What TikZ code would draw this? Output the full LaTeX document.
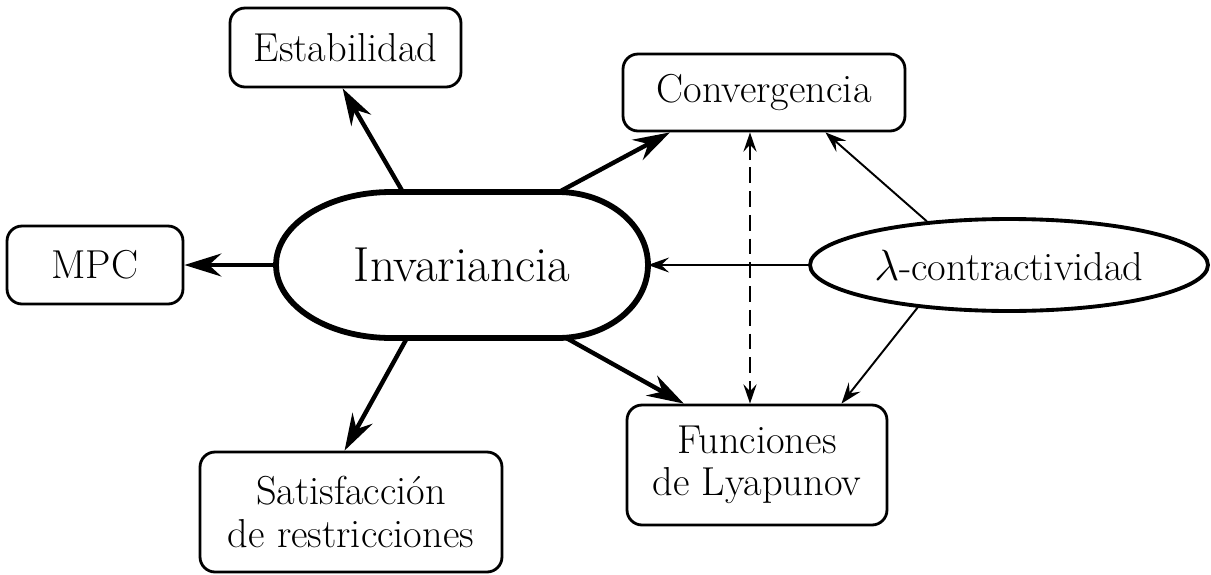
\documentclass[tikz,border=0pt]{standalone}
\usepackage{fontspec}
\usetikzlibrary{arrows.meta,shapes.geometric}
\tikzstyle{box} = [rectangle, draw, rounded corners=0.3cm, line width=1.6pt, align=center, inner sep=0pt, font=\fontsize{23}{24}\selectfont]
\tikzstyle{oval} = [ellipse, draw, line width=2.2pt, inner xsep=-0.4cm, inner ysep=0pt, font=\fontsize{23}{24}\selectfont]
\tikzstyle{core} = [rectangle, inner sep=0pt, outer sep=0pt, minimum width=7.44cm, minimum height=2.92cm, font=\fontsize{28}{30}\selectfont]
\tikzstyle{coreline} = [line width=3.3pt]
\tikzstyle{strong} = [line width=2.5pt, -{Stealth[length=21pt,width=13pt,inset=7pt]}]
\tikzstyle{weak} = [line width=1.1pt, -{Stealth[length=12pt,width=8.5pt,inset=4.5pt]}]
\tikzstyle{link} = [line width=1.1pt, dash pattern=on 9pt off 4.5pt, {Stealth[length=11pt,width=7.5pt,inset=4pt]}-{Stealth[length=11pt,width=7.5pt,inset=4pt]}]

\begin{document}
\begin{tikzpicture}[x=0.02cm,y=-0.02cm]
  \useasboundingbox (0,0) rectangle (1211,575);
  \node[core] (inv) at (462,265) {Invariancia};
  \node[box, minimum width=4.62cm, minimum height=1.58cm] (stab) at (345.5,47.5) {Estabilidad};
  \node[box, minimum width=5.64cm, minimum height=1.54cm] (conv) at (764,92.5) {Convergencia};
  \node[box, minimum width=3.52cm, minimum height=1.56cm] (mpc) at (95,265) {MPC};
  \node[oval, minimum width=7.96cm, minimum height=1.84cm] (lam) at (1009,265) {$\lambda$-contractividad};
  \node[box, minimum width=5.2cm, minimum height=2.4cm] (lyap) at (757,465) {Funciones\\de Lyapunov};
  \node[box, minimum width=6.04cm, minimum height=2.4cm] (sat) at (351,512) {Satisfacción\\de restricciones};

  \draw[coreline] ([xshift=2.3cm]inv.north west) -- ([xshift=-1.8cm]inv.north east)
    arc[start angle=90, end angle=-90, x radius=1.8cm, y radius=1.46cm]
    -- ([xshift=2.3cm]inv.south west)
    arc[start angle=270, end angle=90, x radius=2.3cm, y radius=1.46cm] -- cycle;

  \path (inv.129) edge[strong] (stab.266);
  \path (inv.37) edge[strong] (conv.203.5);
  \path (inv.west) edge[strong] (mpc.east);
  \path (inv.233.5) edge[strong] (sat.96);
  \path (inv.-35) edge[strong] (lyap.140);
  \path (lam.west) edge[weak] (inv.east);
  \path (lam.152) edge[weak] (conv.-33);
  \path (lam.205) edge[weak] (lyap.36);
  \path ([xshift=-0.14cm]lyap.north |- conv.south) edge[link] ([xshift=-0.14cm]lyap.north);
\end{tikzpicture}
\end{document}
